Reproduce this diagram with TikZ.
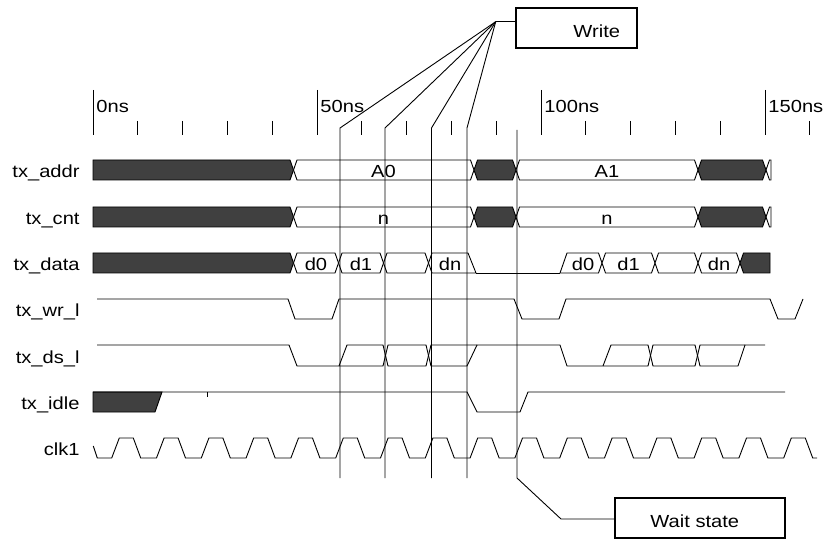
\documentclass[tikz,border=0pt]{standalone}
\usepackage{fontspec}
\setmainfont{Liberation Sans}[FakeStretch=1.15]
\usetikzlibrary{positioning}
\definecolor{busdark}{RGB}{64,64,64}
% bus cell between two crossings: #1 left, #2 right, #3 row centre, #4 fill
\newcommand{\buscell}[4]{%
  \filldraw[fill=#4] (#1,#3) -- (#1+3.5,#3-10) -- (#2-3.5,#3-10) -- (#2,#3)
    -- (#2-3.5,#3+10) -- (#1+3.5,#3+10) -- cycle;}

\begin{document}
\begin{tikzpicture}[x=1pt, y=-1pt, line width=0.9pt, line join=miter,
    font=\fontsize{17.5}{21}\selectfont,
    siglbl/.style={anchor=base east, inner sep=0pt},
    buslbl/.style={anchor=base, inner sep=0pt},
    timelbl/.style={anchor=base west, inner sep=0pt},
    notebox/.style={draw, line width=2pt, minimum height=40pt, inner sep=0pt}]
    \useasboundingbox (0,0) rectangle (831,540);

    % Time scale
    \foreach \t in {0,50,100,150}
        \draw (93+4.48*\t,90) -- (93+4.48*\t,135);
    \foreach \t in {10,20,30,40,60,70,80,90,110,120,130,140,160}
        \draw (93+4.48*\t,121) -- (93+4.48*\t,135);
    \node[timelbl] (t0) at (96,113) {0ns};
    \node[timelbl] (t50) at (320,113) {50ns};
    \node[timelbl] (t100) at (544,113) {100ns};
    \node[timelbl] (t150) at (768,113) {150ns};

    % Signal names
    \node[siglbl] (laddr) at (80,177.5) {tx\_addr};
    \node[siglbl] (lcnt) at (80,224.5) {tx\_cnt};
    \node[siglbl] (ldata) at (80,270.5) {tx\_data};
    \node[siglbl] (lwr) at (80,316.5) {tx\_wr\_l};
    \node[siglbl] (lds) at (80,363) {tx\_ds\_l};
    \node[siglbl] (lidle) at (80,409.5) {tx\_idle};
    \node[siglbl] (lclk) at (80,455.5) {clk1};

    % tx_addr and tx_cnt
    \foreach \y in {170,217} {
        \filldraw[fill=busdark] (93,\y-10) -- (290,\y-10) -- (293.5,\y)
            -- (290,\y+10) -- (93,\y+10) -- cycle;
        \buscell{293.5}{474}{\y}{white}
        \buscell{474}{516}{\y}{busdark}
        \buscell{516}{698}{\y}{white}
        \buscell{698}{766}{\y}{busdark}
        \draw (766,\y) -- (769.5,\y-10) -- (771,\y-10) -- (771,\y+10)
            -- (769.5,\y+10) -- cycle;
    }
    \node[buslbl] (a0) at (383.5,177.5) {A0};
    \node[buslbl] (a1) at (607,177.5) {A1};
    \node[buslbl] (n0) at (383.5,224.5) {n};
    \node[buslbl] (n1) at (607,224.5) {n};

    % tx_data
    \filldraw[fill=busdark] (93,253) -- (290,253) -- (293.5,263)
        -- (290,273) -- (93,273) -- cycle;
    \buscell{293.5}{338.5}{263}{white}
    \buscell{338.5}{383.5}{263}{white}
    \buscell{383.5}{428.5}{263}{white}
    \draw (428.5,263) -- (432,253) -- (468,253) -- (476,273) -- (432,273) -- cycle;
    \draw (476,273) -- (560,273);
    \draw (560,273) -- (567,253) -- (598.5,253) -- (602,263) -- (598.5,273) -- cycle;
    \buscell{602}{655}{263}{white}
    \buscell{655}{698}{263}{white}
    \buscell{698}{740}{263}{white}
    \filldraw[fill=busdark] (740,263) -- (743.5,253) -- (770,253) -- (770,273)
        -- (743.5,273) -- cycle;
    \node[buslbl] (d0a) at (316,270.5) {d0};
    \node[buslbl] (d1a) at (361,270.5) {d1};
    \node[buslbl] (dna) at (450,270.5) {dn};
    \node[buslbl] (d0b) at (583,270.5) {d0};
    \node[buslbl] (d1b) at (628.5,270.5) {d1};
    \node[buslbl] (dnb) at (719,270.5) {dn};

    % tx_wr_l
    \draw (97,299) -- (288,299) -- (295,319) -- (332,319) -- (339,299)
        -- (514,299) -- (522,319) -- (559,319) -- (566,299) -- (770,299)
        -- (778,319) -- (795,319) -- (803,299);

    % tx_ds_l
    \draw (97,345) -- (289,345) -- (297,366) -- (383,366) -- (388,345)
        -- (426,345) -- (431,366) -- (467,366) -- (477,345) -- (560,345)
        -- (567,366) -- (648,366) -- (653,345) -- (695,345) -- (700,366)
        -- (738,366) -- (745,345) -- (765,345);
    \draw (339,366) -- (347,345) -- (383,345) -- (388,366) -- (426,366)
        -- (431,345) -- (477,345);
    \draw (603,366) -- (611,345) -- (648,345) -- (653,366) -- (695,366)
        -- (700,345) -- (745,345);

    % tx_idle
    \filldraw[fill=busdark] (93,392) -- (162,392) -- (155,412) -- (93,412) -- cycle;
    \draw (93,392) -- (467,392) -- (477,412) -- (520,412) -- (528,392) -- (785,392);
    \draw (207,392) -- (207,397);

    % clk1
    \draw (93.3,446) -- (97.3,458)
        \foreach \k in {0,...,15} {
            -- (111.7+44.8*\k,458) -- (119.3+44.8*\k,438)
            -- (133.3+44.8*\k,438) -- (140.7+44.8*\k,458)
        } -- (817,458);

    % Write cursors
    \node[notebox, minimum width=121pt] (writebox) at (576.5,28) {};
    \node[timelbl] (writetxt) at (573,38) {Write};
    \coordinate (wfocus) at (495.7,21.7);
    \draw (wfocus) -- (wfocus -| writebox.west);
    \foreach \x [count=\i] in {340,385,431.5,467} {
        \coordinate (wtop\i) at (\x,128);
        \coordinate (wbot\i) at (\x,478);
        \draw (wfocus) -- (wtop\i) -- (wbot\i);
    }

    % Wait state cursor
    \node[notebox, minimum width=170pt] (waitbox) at (700,518) {};
    \node[timelbl] (waittxt) at (650,527) {Wait state};
    \coordinate (stop) at (517,130);
    \coordinate (sbot) at (517,478);
    \coordinate (sbend) at (561,519);
    \draw (stop) -- (sbot) -- (sbend) -- (waitbox.west |- sbend);
\end{tikzpicture}
\end{document}
